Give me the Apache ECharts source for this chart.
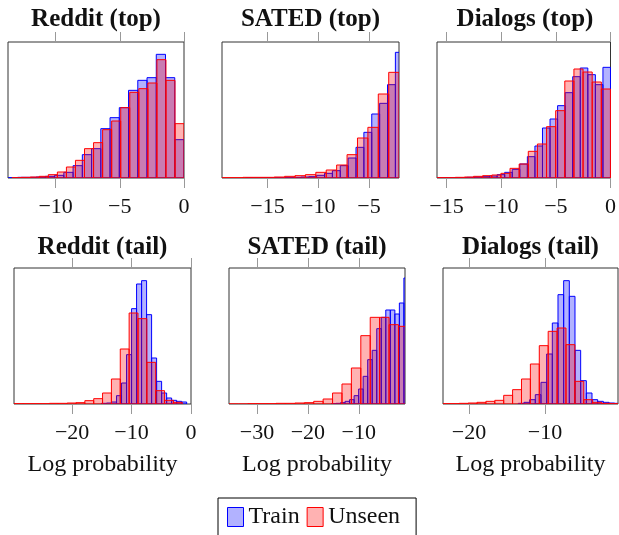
<!DOCTYPE html>
<html>
<head>
<meta charset="utf-8">
<script src="https://cdn.jsdelivr.net/npm/echarts@6/dist/echarts.min.js"></script>
<style>
  html, body { margin: 0; padding: 0; background: #fff; }
  #chart { width: 619px; height: 535px; }
</style>
</head>
<body>
<div id="chart"></div>
<script>
// bar heights (relative units, box height = 408)
// bins = [first bin left edge, bin width] in log-probability units
const redditTopTrainBins = [-13.68, 0.72];
const redditTopTrain = [1, 2, 2, 3, 5, 8, 17, 37, 70, 88, 148, 181, 211, 263, 293, 301, 371, 301, 115];
const redditTopUnseenBins = [-13.39, 0.705];
const redditTopUnseen = [1, 2, 3, 5, 10, 18, 33, 53, 88, 106, 145, 171, 211, 257, 268, 285, 355, 293, 163];

const satedTopTrainBins = [-17.14, 0.776];
const satedTopTrain = [1, 0, 1, 1, 1, 2, 2, 3, 4, 8, 14, 22, 37, 60, 92, 137, 192, 224, 280, 377];
const satedTopUnseenBins = [-19.47, 1.026];
const satedTopUnseen = [1, 1, 2, 2, 2, 3, 5, 7, 10, 17, 24, 39, 70, 120, 152, 252, 317];

const dialogsTopTrainBins = [-15.9, 0.6913];
const dialogsTopTrain = [0, 1, 1, 1, 2, 3, 4, 6, 10, 17, 26, 42, 64, 96, 150, 177, 217, 256, 304, 330, 310, 280, 332];
const dialogsTopUnseenBins = [-15.87, 0.835];
const dialogsTopUnseen = [1, 1, 2, 3, 5, 7, 9, 14, 29, 42, 80, 102, 154, 202, 291, 327, 318, 288, 267];

const redditTailTrainBins = [-15.06, 0.843];
const redditTailTrain = [2, 3, 6, 25, 63, 148, 286, 360, 370, 268, 138, 68, 33, 18, 11, 8, 6];
const redditTailUnseenBins = [-29.78, 1.49];
const redditTailUnseen = [1, 1, 1, 1, 2, 2, 3, 4, 10, 16, 33, 75, 165, 273, 256, 125, 40, 11, 5];

const satedTailTrainBins = [-15.36, 0.889];
const satedTailTrain = [1, 2, 4, 8, 13, 25, 45, 83, 133, 161, 226, 260, 282, 282, 270, 303, 378];
const satedTailUnseenBins = [-35.5, 1.85];
const satedTailUnseen = [0, 0, 1, 1, 1, 2, 2, 3, 4, 8, 15, 33, 60, 108, 205, 260, 260, 238, 233];

const dialogsTailTrainBins = [-13.51, 0.746];
const dialogsTailTrain = [2, 5, 13, 28, 65, 150, 243, 328, 370, 323, 161, 70, 33, 13, 8, 5, 3, 2];
const dialogsTailUnseenBins = [-23.63, 1.171];
const dialogsTailUnseen = [1, 1, 2, 3, 5, 8, 11, 26, 43, 75, 120, 175, 218, 228, 178, 68, 13, 5, 2, 1];

const titles = ['Reddit (top)', 'SATED (top)', 'Dialogs (top)', 'Reddit (tail)', 'SATED (tail)', 'Dialogs (tail)'];
const xRanges = [[-13.71, 0], [-19.48, -2.04], [-15.87, 0], [-29.78, 0], [-35.49, -0.92], [-23.42, -0.39]];
const xTicks = [[-10, -5, 0], [-15, -10, -5], [-15, -10, -5, 0], [-20, -10, 0], [-30, -20, -10], [-20, -10]];
const xLabel = 'Log probability';
const yMax = 408;

const FONT = '"Liberation Serif", "Times New Roman", serif';
const TRAIN_FILL = 'rgba(0,0,255,0.3)';
const UNSEEN_FILL = 'rgba(255,0,0,0.3)';

const panels = [
  { box: { left: 8, top: 42, width: 176, height: 136 }, train: [redditTopTrainBins, redditTopTrain], unseen: [redditTopUnseenBins, redditTopUnseen] },
  { box: { left: 222, top: 42, width: 177, height: 136 }, train: [satedTopTrainBins, satedTopTrain], unseen: [satedTopUnseenBins, satedTopUnseen] },
  { box: { left: 437, top: 42, width: 176, height: 136 }, train: [dialogsTopTrainBins, dialogsTopTrain], unseen: [dialogsTopUnseenBins, dialogsTopUnseen] },
  { box: { left: 14, top: 268, width: 177, height: 136 }, train: [redditTailTrainBins, redditTailTrain], unseen: [redditTailUnseenBins, redditTailUnseen] },
  { box: { left: 229, top: 268, width: 176, height: 136 }, train: [satedTailTrainBins, satedTailTrain], unseen: [satedTailUnseenBins, satedTailUnseen] },
  { box: { left: 443, top: 268, width: 175, height: 136 }, train: [dialogsTailTrainBins, dialogsTailTrain], unseen: [dialogsTailUnseenBins, dialogsTailUnseen] }
];

const fmt = v => (v < 0 ? '\u2212' + Math.abs(v) : String(v));

function histData(bins, counts) {
  const start = bins[0], w = bins[1];
  return counts.map((c, i) => [start + i * w, start + (i + 1) * w, c]);
}

function binRenderer(fill, stroke) {
  return function (params, api) {
    const lo = api.coord([api.value(0), 0]);
    const hi = api.coord([api.value(1), api.value(2)]);
    return {
      type: 'rect',
      shape: { x: lo[0], y: hi[1], width: hi[0] - lo[0], height: lo[1] - hi[1] },
      style: { fill: fill, stroke: stroke, lineWidth: 1 }
    };
  };
}

const grid = [], xAxis = [], yAxis = [], series = [], title = [];

panels.forEach((p, i) => {
  const bottomRow = i >= 3;
  grid.push(Object.assign({ show: true, borderColor: '#333', borderWidth: 1, backgroundColor: 'transparent' }, p.box));

  const tick = { show: true, customValues: xTicks[i], length: 10, inside: false, lineStyle: { color: '#999', width: 1 } };
  xAxis.push({
    gridIndex: i, type: 'value', position: 'bottom',
    min: xRanges[i][0], max: xRanges[i][1],
    axisLine: { show: false }, splitLine: { show: false },
    axisTick: tick,
    axisLabel: { customValues: xTicks[i], formatter: fmt, fontFamily: FONT, fontSize: 22, color: '#111', margin: 18.5 },
    name: bottomRow ? xLabel : '', nameLocation: 'middle', nameGap: 49,
    nameTextStyle: { fontFamily: FONT, fontSize: 24, color: '#111' }
  });
  xAxis.push({
    gridIndex: i, type: 'value', position: 'top',
    min: xRanges[i][0], max: xRanges[i][1],
    axisLine: { show: false }, splitLine: { show: false },
    axisTick: tick, axisLabel: { show: false }
  });
  yAxis.push({ gridIndex: i, type: 'value', min: 0, max: yMax, show: false });

  series.push({
    name: 'Train', type: 'custom', xAxisIndex: 2 * i, yAxisIndex: i, clip: true,
    itemStyle: { color: TRAIN_FILL },
    renderItem: binRenderer(TRAIN_FILL, '#0000ff'),
    data: histData(p.train[0], p.train[1])
  });
  series.push({
    name: 'Unseen', type: 'custom', xAxisIndex: 2 * i, yAxisIndex: i, clip: true,
    itemStyle: { color: UNSEEN_FILL },
    renderItem: binRenderer(UNSEEN_FILL, '#ff0000'),
    data: histData(p.unseen[0], p.unseen[1])
  });

  title.push({
    text: titles[i], left: p.box.left + p.box.width / 2, top: bottomRow ? 235 : 7,
    textAlign: 'center', padding: 0,
    textStyle: { fontFamily: FONT, fontSize: 25, fontWeight: 'bold', color: '#111' }
  });
});

const chart = echarts.init(document.getElementById('chart'), null, { renderer: 'canvas' });
chart.setOption({
  animation: false,
  backgroundColor: '#fff',
  title: title,
  grid: grid,
  xAxis: xAxis,
  yAxis: yAxis,
  series: series,
  legend: {
    left: 218, top: 498,
    orient: 'horizontal',
    padding: [7, 16, 12, 9],
    itemGap: 7,
    itemWidth: 16, itemHeight: 19,
    icon: 'rect',
    borderColor: '#000', borderWidth: 1,
    textStyle: { fontFamily: FONT, fontSize: 24, color: '#111' },
    data: [
      { name: 'Train', itemStyle: { color: TRAIN_FILL, borderColor: '#0000ff', borderWidth: 1 } },
      { name: 'Unseen', itemStyle: { color: UNSEEN_FILL, borderColor: '#ff0000', borderWidth: 1 } }
    ]
  }
});
</script>
</body>
</html>
